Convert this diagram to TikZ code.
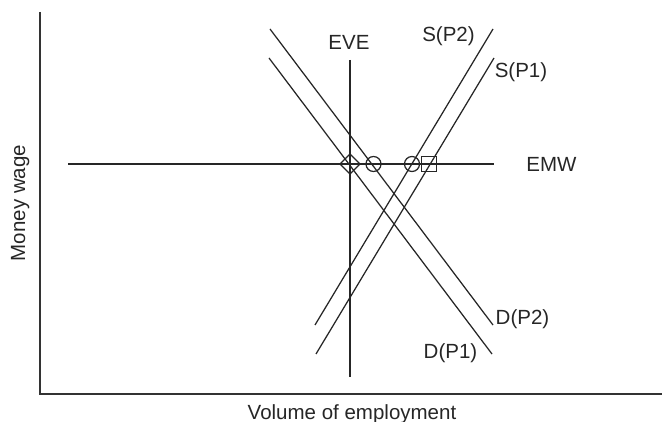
\documentclass[tikz,border=0pt]{standalone}
\usepackage{fontspec}
\setmainfont{Liberation Sans}
\usetikzlibrary{shapes.geometric}
\begin{document}
\begin{tikzpicture}[x=1pt,y=-1pt,
  curve/.style={line width=1.25pt, draw=black!85},
  axisline/.style={line width=2pt, draw=black!80},
  lbl/.style={font=\fontsize{20.5}{24}\selectfont, inner sep=0pt, anchor=base, text=black!85},
  marker/.style={draw=black!85, line width=1.25pt, inner sep=0pt}
]
\useasboundingbox (0,0) rectangle (662,422);
% axes
\coordinate (ytop) at (40,12);
\coordinate (origin) at (40,394);
\coordinate (xend) at (662,394);
\draw[axisline] (ytop) -- (origin) -- (xend);
% curve end points
\coordinate (dp2a) at (270,29);  \coordinate (dp2b) at (493,325);
\coordinate (dp1a) at (269,58);  \coordinate (dp1b) at (492,354);
\coordinate (sp2a) at (493,29);  \coordinate (sp2b) at (315,325);
\coordinate (sp1a) at (494,58);  \coordinate (sp1b) at (316,354);
\coordinate (evea) at (350,60);  \coordinate (eveb) at (350,377);
\coordinate (emwa) at (68,164);  \coordinate (emwb) at (494,164);
\draw[curve] (dp2a) -- (dp2b);
\draw[curve] (dp1a) -- (dp1b);
\draw[curve] (sp2a) -- (sp2b);
\draw[curve] (sp1a) -- (sp1b);
\draw[curve] (evea) -- (eveb);
\draw[curve] (emwa) -- (emwb);
% markers
\node[marker, diamond, minimum width=20.5pt, minimum height=20.5pt] (dia) at (350,164) {};
\node[marker, circle, minimum size=15pt] (c1) at (373.5,164) {};
\node[marker, circle, minimum size=15pt] (c2) at (412,164) {};
\node[marker, rectangle, minimum size=14.5pt] (sq) at (429,164) {};
% labels
\node[lbl] (leve) at (349,50) {EVE};
\node[lbl] (lsp2) at (448.5,42) {S(P2)};
\node[lbl] (lsp1) at (521,78) {S(P1)};
\node[lbl] (lemw) at (551.5,172) {EMW};
\node[lbl] (ldp2) at (522.5,325) {D(P2)};
\node[lbl] (ldp1) at (450.5,359) {D(P1)};
\node[lbl] (lx) at (352,419) {Volume of employment};
\node[lbl, rotate=90] (ly) at (25,203) {Money wage};
\end{tikzpicture}
\end{document}
